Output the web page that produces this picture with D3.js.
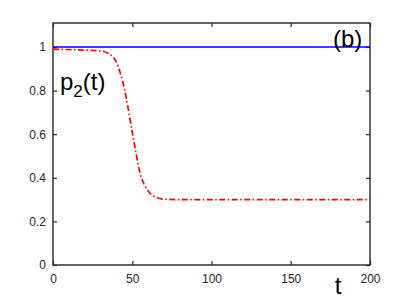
<!DOCTYPE html>
<html>
<head>
<meta charset="utf-8">
<script src="https://cdn.jsdelivr.net/npm/d3@7"></script>
<style>
  body { margin: 0; background: #fff; }
  svg { display: block; font-family: "Liberation Sans", Arial, Helvetica, sans-serif; }
  .tick text { fill: #262626; font-size: 12px; }
</style>
</head>
<body>
<svg id="chart"></svg>
<script>
// data
const tValues   = [0, 10, 20, 30, 35, 40, 45, 50, 55, 60, 65, 70, 80, 100, 150, 200];
const redValues = [0.99, 0.988, 0.986, 0.982, 0.97, 0.93, 0.81, 0.61, 0.42, 0.34, 0.31, 0.302, 0.3, 0.3, 0.3, 0.3];
const blueT      = [0, 200];
const blueValues = [1.0, 1.0];
const xTicks = [0, 50, 100, 150, 200];
const yTicks = [0, 0.2, 0.4, 0.6, 0.8, 1];

const width = 409, height = 298;
const margin = { top: 23, right: 39, bottom: 33, left: 53 };
const w = width - margin.left - margin.right;
const h = height - margin.top - margin.bottom;

const svg = d3.select("#chart").attr("width", width).attr("height", height);
const g = svg.append("g").attr("transform", `translate(${margin.left},${margin.top})`);

const x = d3.scaleLinear().domain([0, 200]).range([0, w]);
const y = d3.scaleLinear().domain([0, 1.11]).range([h, 0]);

// axes, ticks inward like matlab
const axisColor = "#262626";
function styleAxis(sel) {
    sel.select(".domain").remove();
    sel.selectAll(".tick line").attr("stroke", axisColor).attr("stroke-width", 1.2);
}
g.append("g").attr("transform", `translate(0,${h})`)
    .call(d3.axisBottom(x).tickValues(xTicks).tickSizeInner(-4).tickSizeOuter(0).tickPadding(9).tickFormat(d3.format("d")))
    .call(styleAxis);
g.append("g")
    .call(d3.axisTop(x).tickValues(xTicks).tickSizeInner(-4).tickSizeOuter(0).tickFormat(""))
    .call(styleAxis);
g.append("g")
    .call(d3.axisLeft(y).tickValues(yTicks).tickSizeInner(-4).tickSizeOuter(0).tickPadding(7).tickFormat(d => d === 0 || d === 1 ? d3.format("d")(d) : d3.format(".1f")(d)))
    .call(styleAxis);
g.append("g").attr("transform", `translate(${w},0)`)
    .call(d3.axisRight(y).tickValues(yTicks).tickSizeInner(-4).tickSizeOuter(0).tickFormat(""))
    .call(styleAxis);

g.append("rect")
    .attr("width", w).attr("height", h)
    .attr("fill", "none").attr("stroke", axisColor).attr("stroke-width", 1.4);

// lines
const line = d3.line().x(d => x(d[0])).y(d => y(d[1])).curve(d3.curveMonotoneX);

g.append("path")
    .datum(blueT.map((t, i) => [t, blueValues[i]]))
    .attr("d", line)
    .attr("fill", "none").attr("stroke", "#0000ff").attr("stroke-width", 1.6);

g.append("path")
    .datum(tValues.map((t, i) => [t, redValues[i]]))
    .attr("d", line)
    .attr("fill", "none").attr("stroke", "#ff0000").attr("stroke-width", 1.7)
    .attr("stroke-dasharray", "6,2.5,1.5,2.5");

// labels
const lab = svg.append("text").attr("x", 60).attr("y", 90).attr("font-size", 24).attr("fill", "#000");
lab.append("tspan").text("p");
lab.append("tspan").attr("font-size", 17).attr("dy", 7).text("2");
lab.append("tspan").attr("dy", -7).text("(t)");

svg.append("text").attr("x", 333).attr("y", 47).attr("font-size", 24).attr("fill", "#000").text("(b)");
svg.append("text").attr("x", 338).attr("y", 294).attr("font-size", 24).attr("fill", "#000")
    .attr("text-anchor", "middle").text("t");
</script>
</body>
</html>
